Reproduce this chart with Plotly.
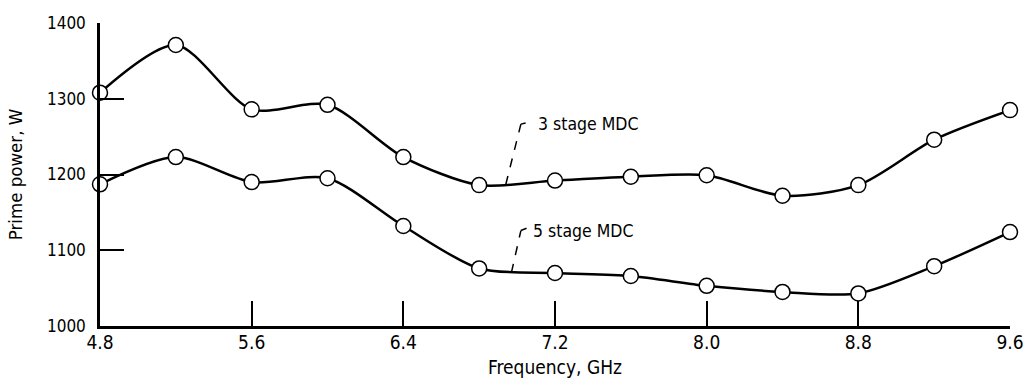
import plotly.graph_objects as go

freq = [4.8, 5.2, 5.6, 6.0, 6.4, 6.8, 7.2, 7.6, 8.0, 8.4, 8.8, 9.2, 9.6]
power_3stage = [1308, 1371, 1286, 1292, 1223, 1186, 1192, 1197, 1199, 1172, 1186, 1246, 1285]
power_5stage = [1187, 1223, 1190, 1195, 1132, 1076, 1070, 1066, 1053, 1045, 1043, 1079, 1124]
x_ticks = [4.8, 5.6, 6.4, 7.2, 8.0, 8.8, 9.6]
x_tick_text = ["4.8", "5.6", "6.4", "7.2", "8.0", "8.8", "9.6"]
y_ticks = [1000, 1100, 1200, 1300, 1400]
y_tick_text = ["1000", "1100", "1200", "1300", "1400"]
labels = ["3 stage MDC", "5 stage MDC"]

FONT = "DejaVu Sans Condensed, Liberation Sans Narrow, sans-serif"

fig = go.Figure()
for y in (power_3stage, power_5stage):
    fig.add_trace(go.Scatter(
        x=freq, y=y, mode="lines+markers",
        line=dict(color="black", width=2.5, shape="spline", smoothing=0.8),
        marker=dict(symbol="circle", size=15, color="white",
                    line=dict(color="black", width=1.5)),
        showlegend=False, cliponaxis=False,
    ))

# leader lines (dashed) and labels
leaders = [
    dict(pts=[(6.94, 1186.5), (7.02, 1266.5), (7.045, 1268)], text_x=7.10, text_y=1267, label=labels[0]),
    dict(pts=[(6.97, 1070.5), (7.02, 1126), (7.05, 1129)], text_x=7.075, text_y=1126, label=labels[1]),
]
for ld in leaders:
    (x0, y0), (x1, y1), (x2, y2) = ld["pts"]
    fig.add_shape(type="line", x0=x0, y0=y0, x1=x1, y1=y1, xref="x", yref="y",
                  line=dict(color="black", width=1.5, dash="dash"))
    fig.add_shape(type="line", x0=x1, y0=y1, x1=x2, y1=y2, xref="x", yref="y",
                  line=dict(color="black", width=1.5))
    fig.add_annotation(x=ld["text_x"], y=ld["text_y"], text=ld["label"], showarrow=False,
                       xanchor="left", yanchor="middle",
                       font=dict(family=FONT, size=17.5, color="black"))

fig.update_layout(
    width=1027, height=383,
    margin=dict(l=100, r=17, t=23, b=57),
    paper_bgcolor="white", plot_bgcolor="white",
    font=dict(family=FONT, size=17, color="black"),
)
fig.update_xaxes(
    range=[4.8, 9.6], tickvals=x_ticks, ticktext=x_tick_text,
    ticks="inside", ticklen=25, tickwidth=2, tickcolor="black",
    showline=True, linecolor="black", linewidth=2.5, showgrid=False, zeroline=False,
    title=dict(text="Frequency, GHz", font=dict(family=FONT, size=19), standoff=10),
    tickfont=dict(family=FONT, size=19), automargin=False, ticklabelstandoff=-3,
)
fig.update_yaxes(
    range=[1000, 1400], tickvals=y_ticks, ticktext=y_tick_text,
    ticks="inside", ticklen=24, tickwidth=2, tickcolor="black",
    showline=True, linecolor="black", linewidth=2.5, showgrid=False, zeroline=False,
    title=dict(text="Prime power, W", font=dict(family=FONT, size=18.5), standoff=20),
    tickfont=dict(family=FONT, size=17), automargin=False, ticklabelstandoff=8,
)

fig.write_html(
    "out.html",
    config={"displayModeBar": False},
    post_script="document.body.style.margin='0';document.body.style.overflow='hidden';",
)
